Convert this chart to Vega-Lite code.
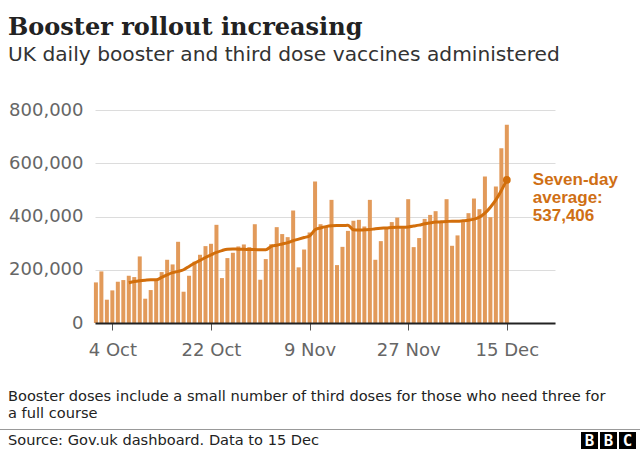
{
  "$schema": "https://vega.github.io/schema/vega-lite/v6.json",
  "autosize": "none",
  "width": 460,
  "height": 213,
  "padding": {"left": 95, "top": 110, "right": 85, "bottom": 127},
  "background": "white",
  "config": {"view": {"stroke": null}},
  "title": {
    "text": "Booster rollout increasing",
    "subtitle": "UK daily booster and third dose vaccines administered",
    "anchor": "start",
    "frame": "group",
    "dx": -87,
    "offset": 36,
    "font": "DejaVu Serif",
    "fontSize": 24,
    "fontWeight": "bold",
    "color": "#222222",
    "subtitleFont": "DejaVu Sans",
    "subtitleFontSize": 20.2,
    "subtitleColor": "#333333",
    "subtitlePadding": 5
  },
  "datasets": {
    "daily": [
      {"date": "2021-10-01", "doses": 152500},
      {"date": "2021-10-02", "doses": 193750},
      {"date": "2021-10-03", "doses": 87500},
      {"date": "2021-10-04", "doses": 122500},
      {"date": "2021-10-05", "doses": 155000},
      {"date": "2021-10-06", "doses": 161250},
      {"date": "2021-10-07", "doses": 177500, "avg": 151000},
      {"date": "2021-10-08", "doses": 172500, "avg": 156000},
      {"date": "2021-10-09", "doses": 250000, "avg": 159000},
      {"date": "2021-10-10", "doses": 91250, "avg": 161000},
      {"date": "2021-10-11", "doses": 123750, "avg": 162500},
      {"date": "2021-10-12", "doses": 158750, "avg": 162500},
      {"date": "2021-10-13", "doses": 191250, "avg": 171000},
      {"date": "2021-10-14", "doses": 237500, "avg": 181000},
      {"date": "2021-10-15", "doses": 220000, "avg": 189000},
      {"date": "2021-10-16", "doses": 305000, "avg": 194000},
      {"date": "2021-10-17", "doses": 117500, "avg": 200000},
      {"date": "2021-10-18", "doses": 177500, "avg": 212500},
      {"date": "2021-10-19", "doses": 230000, "avg": 225000},
      {"date": "2021-10-20", "doses": 256250, "avg": 235000},
      {"date": "2021-10-21", "doses": 288750, "avg": 246000},
      {"date": "2021-10-22", "doses": 297500, "avg": 256000},
      {"date": "2021-10-23", "doses": 368750, "avg": 265000},
      {"date": "2021-10-24", "doses": 168750, "avg": 272000},
      {"date": "2021-10-25", "doses": 243750, "avg": 277000},
      {"date": "2021-10-26", "doses": 263750, "avg": 278000},
      {"date": "2021-10-27", "doses": 287500, "avg": 277000},
      {"date": "2021-10-28", "doses": 295000, "avg": 277000},
      {"date": "2021-10-29", "doses": 285000, "avg": 276000},
      {"date": "2021-10-30", "doses": 371000, "avg": 276000},
      {"date": "2021-10-31", "doses": 162500, "avg": 275000},
      {"date": "2021-11-01", "doses": 240000, "avg": 275000},
      {"date": "2021-11-02", "doses": 296000, "avg": 287500},
      {"date": "2021-11-03", "doses": 360000, "avg": 292000},
      {"date": "2021-11-04", "doses": 334000, "avg": 297000},
      {"date": "2021-11-05", "doses": 322500, "avg": 302000},
      {"date": "2021-11-06", "doses": 422500, "avg": 309000},
      {"date": "2021-11-07", "doses": 209000, "avg": 315000},
      {"date": "2021-11-08", "doses": 276000, "avg": 321000},
      {"date": "2021-11-09", "doses": 340000, "avg": 327000},
      {"date": "2021-11-10", "doses": 531000, "avg": 350000},
      {"date": "2021-11-11", "doses": 371000, "avg": 357000},
      {"date": "2021-11-12", "doses": 362500, "avg": 362000},
      {"date": "2021-11-13", "doses": 462500, "avg": 365000},
      {"date": "2021-11-14", "doses": 217500, "avg": 366000},
      {"date": "2021-11-15", "doses": 286000, "avg": 366000},
      {"date": "2021-11-16", "doses": 346000, "avg": 367000},
      {"date": "2021-11-17", "doses": 384000, "avg": 350000},
      {"date": "2021-11-18", "doses": 387500, "avg": 349000},
      {"date": "2021-11-19", "doses": 362500, "avg": 350000},
      {"date": "2021-11-20", "doses": 462500, "avg": 351000},
      {"date": "2021-11-21", "doses": 237500, "avg": 354000},
      {"date": "2021-11-22", "doses": 307500, "avg": 356000},
      {"date": "2021-11-23", "doses": 356000, "avg": 357000},
      {"date": "2021-11-24", "doses": 379000, "avg": 359000},
      {"date": "2021-11-25", "doses": 396000, "avg": 360000},
      {"date": "2021-11-26", "doses": 356000, "avg": 360000},
      {"date": "2021-11-27", "doses": 465000, "avg": 361000},
      {"date": "2021-11-28", "doses": 285000, "avg": 364000},
      {"date": "2021-11-29", "doses": 319000, "avg": 367500},
      {"date": "2021-11-30", "doses": 391000, "avg": 372500},
      {"date": "2021-12-01", "doses": 406000, "avg": 376000},
      {"date": "2021-12-02", "doses": 420000, "avg": 379000},
      {"date": "2021-12-03", "doses": 377500, "avg": 380000},
      {"date": "2021-12-04", "doses": 465000, "avg": 381000},
      {"date": "2021-12-05", "doses": 290000, "avg": 382500},
      {"date": "2021-12-06", "doses": 329000, "avg": 382500},
      {"date": "2021-12-07", "doses": 379000, "avg": 384000},
      {"date": "2021-12-08", "doses": 412500, "avg": 386000},
      {"date": "2021-12-09", "doses": 467500, "avg": 390000},
      {"date": "2021-12-10", "doses": 427500, "avg": 397500},
      {"date": "2021-12-11", "doses": 550000, "avg": 412500},
      {"date": "2021-12-12", "doses": 397500, "avg": 435000},
      {"date": "2021-12-13", "doses": 512500, "avg": 462500},
      {"date": "2021-12-14", "doses": 656000, "avg": 497500},
      {"date": "2021-12-15", "doses": 745000, "avg": 537406}
    ],
    "latest": [
      {"date": "2021-12-15", "avg": 537406}
    ]
  },
  "data": {"name": "daily"},
  "layer": [
    {
      "mark": {"type": "bar", "color": "#e29a5a", "size": 4},
      "encoding": {
        "x": {
          "field": "date",
          "type": "temporal",
          "scale": {
            "type": "utc",
            "nice": false,
            "padding": 0,
            "domain": [
              {"year": 2021, "month": "sep", "date": 30, "hours": 20, "utc": true},
              {"year": 2021, "month": "dec", "date": 23, "hours": 19, "utc": true}
            ]
          },
          "axis": {
            "title": null,
            "values": [
              {"year": 2021, "month": "oct", "date": 4, "utc": true},
              {"year": 2021, "month": "oct", "date": 22, "utc": true},
              {"year": 2021, "month": "nov", "date": 9, "utc": true},
              {"year": 2021, "month": "nov", "date": 27, "utc": true},
              {"year": 2021, "month": "dec", "date": 15, "utc": true}
            ],
            "format": "%-d %b",
            "grid": false,
            "domainColor": "#222222",
            "domainWidth": 2,
            "tickColor": "#555555",
            "tickSize": 7,
            "tickWidth": 1,
            "labelFont": "DejaVu Sans",
            "labelFontSize": 18,
            "labelColor": "#666666",
            "labelPadding": 11,
            "labelFlush": false,
            "labelOverlap": false,
            "zindex": 1
          }
        },
        "y": {
          "field": "doses",
          "type": "quantitative",
          "scale": {"domain": [0, 800000], "nice": false},
          "axis": {
            "title": null,
            "values": [0, 200000, 400000, 600000, 800000],
            "format": ",d",
            "domain": false,
            "ticks": false,
            "grid": true,
            "gridColor": "#dcdcdc",
            "gridWidth": 1,
            "labelFont": "DejaVu Sans",
            "labelFontSize": 18,
            "labelColor": "#666666",
            "labelPadding": 12
          }
        }
      }
    },
    {
      "mark": {"type": "line", "color": "#d26e0b", "strokeWidth": 3, "interpolate": "monotone"},
      "encoding": {
        "x": {"field": "date", "type": "temporal"},
        "y": {"field": "avg", "type": "quantitative"}
      }
    },
    {
      "data": {"name": "latest"},
      "mark": {"type": "point", "filled": true, "opacity": 1, "color": "#d26e0b", "size": 60, "shape": "circle"},
      "encoding": {
        "x": {"field": "date", "type": "temporal"},
        "y": {"field": "avg", "type": "quantitative"}
      }
    },
    {
      "data": {"name": "latest"},
      "mark": {
        "type": "text",
        "text": ["Seven-day", "average:", "537,406"],
        "align": "left",
        "baseline": "middle",
        "dx": 26,
        "lineHeight": 18,
        "font": "Liberation Sans",
        "fontSize": 17,
        "fontWeight": "bold",
        "color": "#cf6f14"
      },
      "encoding": {
        "x": {"field": "date", "type": "temporal"},
        "y": {"field": "avg", "type": "quantitative"}
      }
    },
    {
      "data": {"values": [{}]},
      "mark": {
        "type": "text",
        "text": ["Booster doses include a small number of third doses for those who need three for", "a full course"],
        "align": "left",
        "baseline": "alphabetic",
        "lineHeight": 16.5,
        "font": "DejaVu Sans",
        "fontSize": 14.6,
        "color": "#222222"
      },
      "encoding": {"x": {"value": -87}, "y": {"value": 291}}
    },
    {
      "data": {"values": [{}]},
      "mark": {"type": "rule", "color": "#999999", "strokeWidth": 1},
      "encoding": {"x": {"value": -95}, "x2": {"value": 545}, "y": {"value": 319.5}, "y2": {"value": 319.5}}
    },
    {
      "data": {"values": [{}]},
      "mark": {
        "type": "text",
        "text": "Source: Gov.uk dashboard. Data to 15 Dec",
        "align": "left",
        "baseline": "alphabetic",
        "font": "DejaVu Sans",
        "fontSize": 14.6,
        "color": "#222222"
      },
      "encoding": {"x": {"value": -87}, "y": {"value": 334.5}}
    },
    {
      "data": {"values": [{}]},
      "mark": {"type": "rect", "color": "#000000"},
      "encoding": {"x": {"value": 486}, "x2": {"value": 503}, "y": {"value": 322}, "y2": {"value": 339}}
    },
    {
      "data": {"values": [{}]},
      "mark": {"type": "rect", "color": "#000000"},
      "encoding": {"x": {"value": 505}, "x2": {"value": 522}, "y": {"value": 322}, "y2": {"value": 339}}
    },
    {
      "data": {"values": [{}]},
      "mark": {"type": "rect", "color": "#000000"},
      "encoding": {"x": {"value": 524}, "x2": {"value": 541}, "y": {"value": 322}, "y2": {"value": 339}}
    },
    {
      "data": {"values": [{}]},
      "mark": {
        "type": "text",
        "text": "B B C",
        "align": "center",
        "baseline": "alphabetic",
        "font": "DejaVu Sans Mono",
        "fontSize": 15.8,
        "fontWeight": "bold",
        "color": "#ffffff"
      },
      "encoding": {"x": {"value": 513.5}, "y": {"value": 336.3}}
    }
  ]
}
